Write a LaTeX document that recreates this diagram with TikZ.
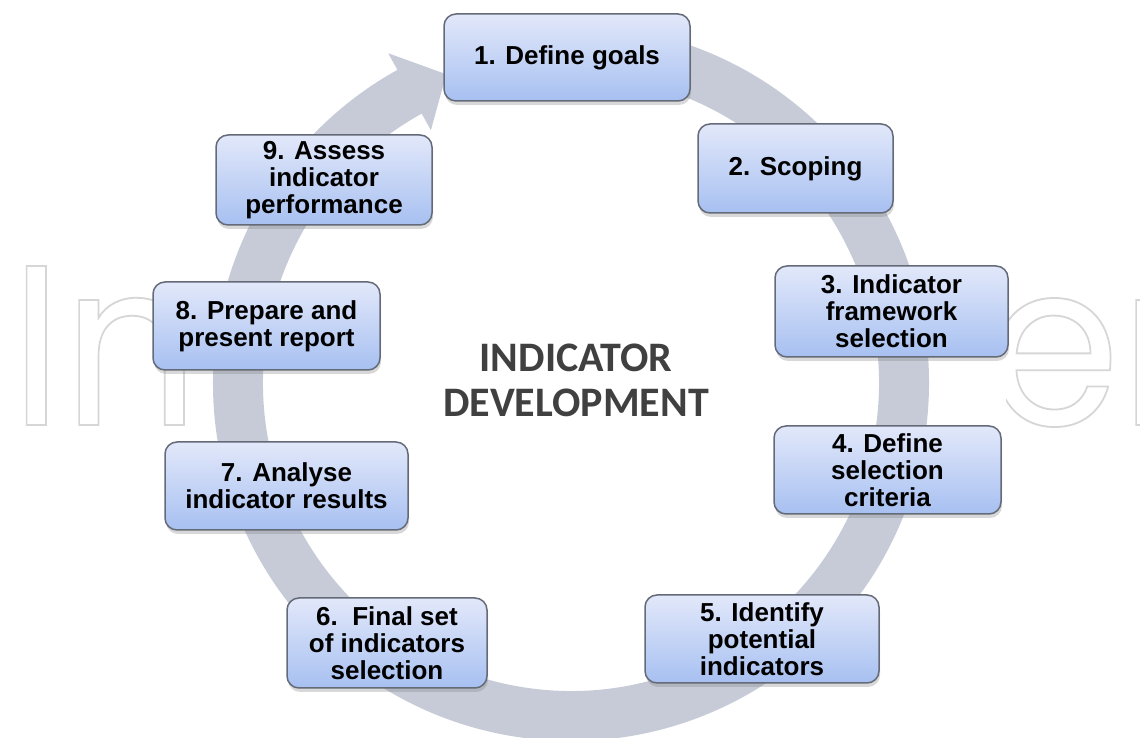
\documentclass[tikz,border=0pt]{standalone}
\usepackage{fontspec}
\setmainfont{Liberation Sans}
\newfontfamily\titlefont{Carlito}
\newfontfamily\wmfont{Poppins}
\usetikzlibrary{shadows}
\definecolor{ringcol}{HTML}{C6CBD7}
\definecolor{boxline}{HTML}{646A77}
\definecolor{boxtop}{HTML}{E2E8FA}
\definecolor{boxbot}{HTML}{A7C0F1}
\definecolor{titlecol}{HTML}{404040}
\definecolor{wmcol}{HTML}{D6D6D6}
\newcommand{\outlinetext}[1]{\special{pdf:literal direct 1 Tr 1.8 w}\scalebox{0.936}[1]{#1}\special{pdf:literal direct 0 Tr}}
\tikzset{
  stepbox/.style={draw=boxline, line width=1.5pt, rounded corners=12pt,
    top color=boxtop, bottom color=boxbot, align=center, inner sep=0pt,
    font=\bfseries\fontsize{26}{27}\selectfont,
    drop shadow={shadow xshift=1pt, shadow yshift=-4pt, opacity=0.3}},
  titletext/.style={align=center, inner sep=0pt, text=titlecol,
    font=\titlefont\bfseries\fontsize{42}{45}\selectfont},
  wmtext/.style={inner sep=0pt, anchor=base west, text=wmcol,
    font=\wmfont\fontsize{228}{228}\selectfont}
}
\begin{document}
\begin{tikzpicture}[x=1pt,y=1pt]
\useasboundingbox[fill=white] (0,0) rectangle (1140,738);
% watermark
\begin{scope}
  \clip (0,0) rectangle (213,738) (1006,0) rectangle (1140,738);
  \node[wmtext] (wm) at (10,313) {\outlinetext{IntechOpen}};
\end{scope}
% circular arrow
\begin{scope}[shift={(571,355)}]
  \fill[ringcol] (85:358) arc[start angle=85, end angle=-241, radius=358]
    -- (-241:377) -- (-248:333) -- (-241:289) -- (-241:308)
    arc[start angle=-241, end angle=85, radius=308] -- cycle;
\end{scope}
% title
\node[titletext, anchor=north] (title) at (576,394) {INDICATOR\\DEVELOPMENT};
% steps
\node[stepbox, minimum width=246, minimum height=87] (s1) at (567,680.5) {1. Define goals};
\node[stepbox, minimum width=195, minimum height=89] (s2) at (795.5,569.5) {2. Scoping};
\node[stepbox, minimum width=233, minimum height=91] (s3) at (891.5,426.5) {3. Indicator\\framework\\selection};
\node[stepbox, minimum width=227, minimum height=88] (s4) at (887.5,268) {4. Define\\selection\\criteria};
\node[stepbox, minimum width=234, minimum height=88] (s5) at (762,99) {5. Identify\\potential\\indicators};
\node[stepbox, minimum width=200, minimum height=90] (s6) at (387,95) {6.\ \ Final set\\of indicators\\selection};
\node[stepbox, minimum width=243, minimum height=88] (s7) at (286.5,252) {7. Analyse\\indicator results};
\node[stepbox, minimum width=227, minimum height=88] (s8) at (266.5,412) {8. Prepare and\\present report};
\node[stepbox, minimum width=216, minimum height=90] (s9) at (324,558) {9. Assess\\indicator\\performance};
\end{tikzpicture}
\end{document}
